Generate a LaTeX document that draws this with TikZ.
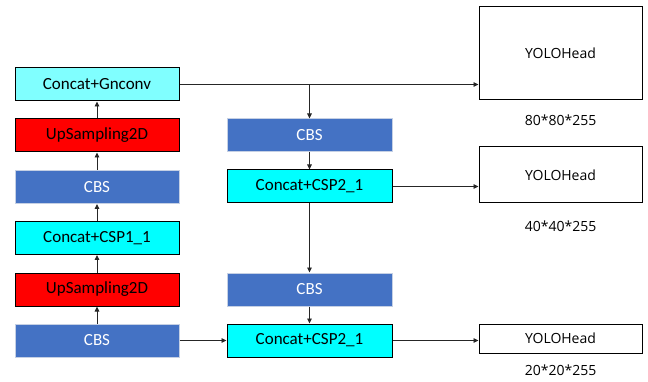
\documentclass[tikz,border=0pt]{standalone}
\usepackage{fontspec}
\setmainfont{Carlito}
\newfontfamily\headfont{Open Sans}
\usetikzlibrary{arrows.meta,positioning,calc}
\definecolor{cbsblue}{HTML}{4472C4}
\definecolor{cbsline}{HTML}{C5D0E4}
\definecolor{lightcyan}{HTML}{80FFFF}
\definecolor{headcyan}{HTML}{00FFFF}
\begin{document}
\begin{tikzpicture}[x=1pt,y=-1pt,
block/.style={rectangle,draw=black,line width=1pt,minimum height=33pt,
  inner sep=0pt,font=\fontsize{17}{18}\selectfont},
cbs/.style={block,fill=cbsblue,draw=cbsline,text=white},
up/.style={block,fill=red},
cat/.style={block,fill=headcyan},
head/.style={rectangle,draw=black,line width=1pt,minimum width=163pt,
  inner sep=0pt,font=\headfont\fontsize{14}{16}\selectfont},
size/.style={font=\headfont\fontsize{14}{16}\selectfont},
arr/.style={-{Triangle[length=5pt,width=4.5pt]},line width=0.9pt,black!85}]
\useasboundingbox (0,0) rectangle (648,382);

% left column
\node[cat,fill=lightcyan,minimum width=164pt] (gn) at (97,84.5) {Concat+Gnconv};
\node[up,minimum width=164pt] (up1) at (97,135.5) {UpSampling2D};
\node[cbs,minimum width=164pt] (cbs1) at (97,187) {CBS};
\node[cat,minimum width=164pt] (csp1) at (97,238) {Concat+CSP1\_1};
\node[up,minimum width=164pt] (up2) at (97,289.5) {UpSampling2D};
\node[cbs,minimum width=164pt] (cbs2) at (97,340.5) {CBS};

% middle column
\node[cbs,minimum width=165pt] (cbs3) at (309.5,135.5) {CBS};
\node[cat,minimum width=165pt] (csp2a) at (309.5,186.5) {Concat+CSP2\_1};
\node[cbs,minimum width=165pt] (cbs4) at (309.5,289.5) {CBS};
\node[cat,minimum width=165pt] (csp2b) at (309.5,340.5) {Concat+CSP2\_1};

% heads
\node[head,minimum height=93pt] (head1) at (560.5,53.5) {YOLOHead};
\node[head,minimum height=56pt] (head2) at (560.5,175) {YOLOHead};
\node[head,minimum height=29pt] (head3) at (560.5,338.5) {YOLOHead};
\node[size] (lab1) at (560.5,120) {80*80*255};
\node[size] (lab2) at (560.5,226) {40*40*255};
\node[size] (lab3) at (560.5,370) {20*20*255};

\draw[arr] (cbs2) -- (up2);
\draw[arr] (up2) -- (csp1);
\draw[arr] (csp1) -- (cbs1);
\draw[arr] (cbs1) -- (up1);
\draw[arr] (up1) -- (gn);

\coordinate (br) at (gn.east -| cbs3.north);
\draw[arr] (gn.east) -- (gn.east -| head1.west);
\draw[arr] (br) -- (cbs3);
\draw[arr] (cbs3) -- (csp2a);
\draw[arr] (csp2a.east) -- (csp2a.east -| head2.west);
\draw[arr] (csp2a) -- (cbs4);
\draw[arr] (cbs4) -- (csp2b);
\draw[arr] (cbs2) -- (csp2b);
\draw[arr] (csp2b.east) -- (csp2b.east -| head3.west);
\end{tikzpicture}
\end{document}
